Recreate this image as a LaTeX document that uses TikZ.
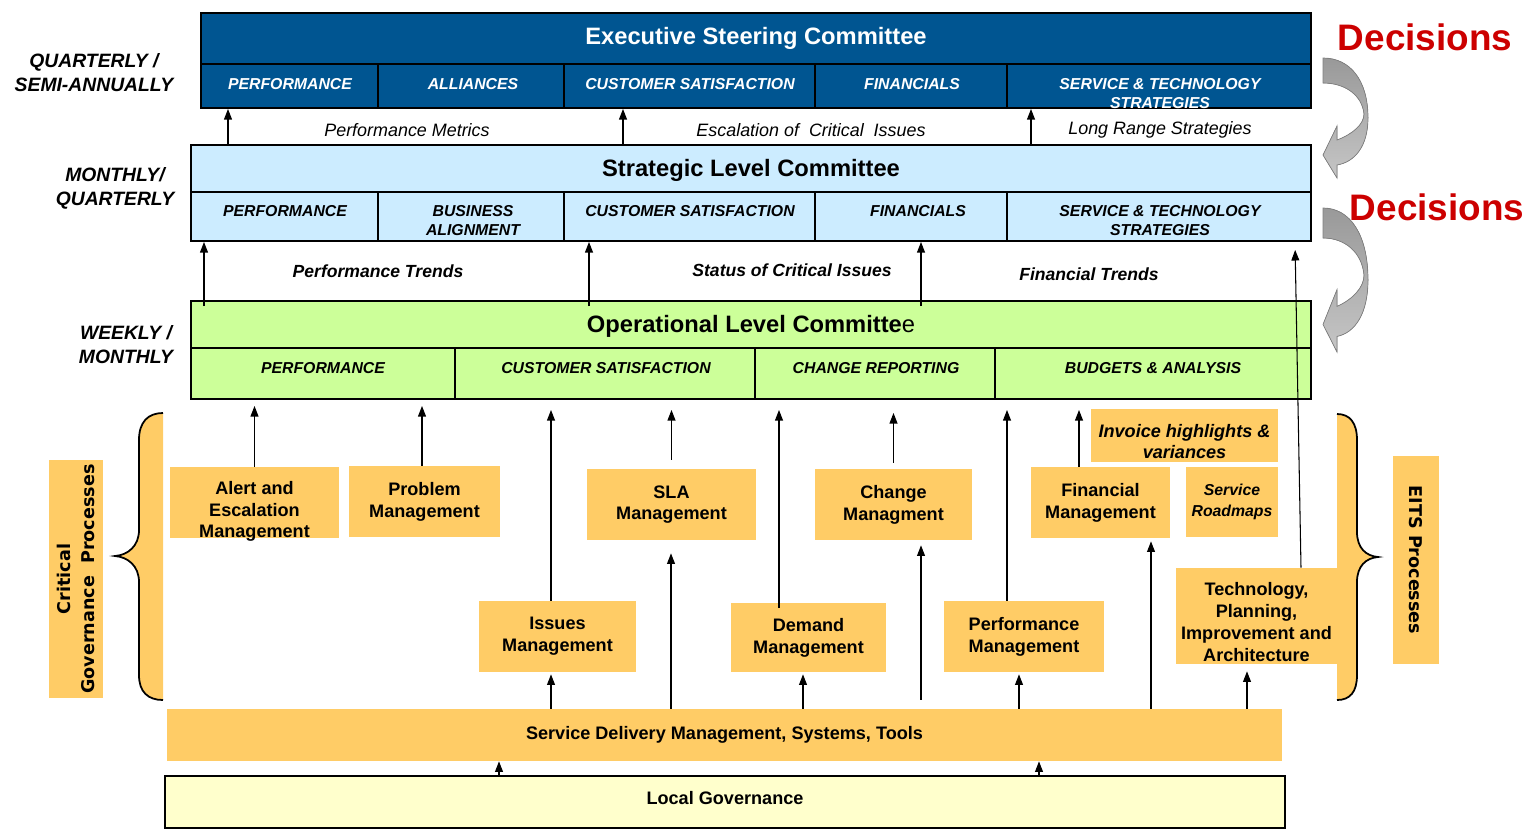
\documentclass[tikz,border=0pt]{standalone}
\usepackage{fontspec}
\setmainfont{Liberation Sans}
\newfontfamily\dejavu{DejaVu Sans}
\usetikzlibrary{arrows.meta}

\definecolor{execblue}{RGB}{0,85,145}
\definecolor{stratblue}{RGB}{204,236,255}
\definecolor{opgreen}{RGB}{204,255,153}
\definecolor{procorange}{RGB}{255,204,102}
\definecolor{localyellow}{RGB}{255,255,204}
\definecolor{decred}{RGB}{204,0,0}

\tikzset{
  sz/.style 2 args={minimum width=#1*0.02cm, minimum height=#2*0.02cm},
  panel/.style={draw, line width=1.1pt, inner sep=0pt},
  proc/.style={fill=procorange, inner sep=0pt, align=center,
    font=\fontsize{10.3}{12.4}\selectfont\bfseries},
  proctext/.style={align=center, inner sep=0pt,
    font=\fontsize{10.3}{12.4}\selectfont\bfseries},
  ttl/.style={font=\fontsize{13.5}{16}\selectfont\bfseries},
  cell/.style={align=center, inner sep=0pt,
    font=\fontsize{9}{10.8}\selectfont\bfseries\itshape},
  period/.style={align=center, font=\fontsize{11}{13.6}\selectfont\bfseries\itshape},
  flow/.style={font=\fontsize{10.2}{12}\selectfont\itshape},
  arr/.style={-{Triangle[length=6pt,width=4.5pt]}, line width=0.6pt},
  sidebar/.style={fill=procorange, inner sep=0pt, align=center,
    font=\dejavu\fontsize{10}{13.6}\selectfont\bfseries},
}

\begin{document}
\begin{tikzpicture}[x=0.02cm, y=-0.02cm]
\useasboundingbox (0,0) rectangle (1532,833);

% executive steering committee
\node[panel, fill=execblue, sz={1110}{95}] (exec) at (756,60.5) {};
\draw[line width=1.1pt] (exec.west |- 0,64) -- (exec.east |- 0,64);
\foreach \x in {378,564,815,1007}
  \draw[line width=1.1pt] (\x,64) -- (exec.south -| \x,0);
\node[ttl, white] (exectitle) at (756,38) {Executive Steering Committee};
\node[cell, white] (exec1) at (290,84) {PERFORMANCE};
\node[cell, white] (exec2) at (473,84) {ALLIANCES};
\node[cell, white] (exec3) at (690,84) {CUSTOMER SATISFACTION};
\node[cell, white] (exec4) at (912,84) {FINANCIALS};
\node[cell, white] (exec5) at (1160,93.5) {SERVICE \& TECHNOLOGY\\STRATEGIES};

% strategic level committee
\node[panel, fill=stratblue, sz={1120}{96}] (strat) at (751,193) {};
\draw[line width=1.1pt] (strat.west |- 0,192) -- (strat.east |- 0,192);
\foreach \x in {378,564,815,1007}
  \draw[line width=1.1pt] (\x,192) -- (strat.south -| \x,0);
\node[ttl] (strattitle) at (751,170) {Strategic Level Committee};
\node[cell] (strat1) at (285,211) {PERFORMANCE};
\node[cell] (strat2) at (473,220.5) {BUSINESS\\ALIGNMENT};
\node[cell] (strat3) at (690,211) {CUSTOMER SATISFACTION};
\node[cell] (strat4) at (918,211) {FINANCIALS};
\node[cell] (strat5) at (1160,220.5) {SERVICE \& TECHNOLOGY\\STRATEGIES};

% operational level committee
\node[panel, fill=opgreen, sz={1120}{98}] (oper) at (751,350) {};
\draw[line width=1.1pt] (oper.west |- 0,348) -- (oper.east |- 0,348);
\foreach \x in {455,755,995}
  \draw[line width=1.1pt] (\x,348) -- (oper.south -| \x,0);
\node[ttl] (opertitle) at (751,326) {Operational Level Committe{\mdseries e}};
\node[cell] (oper1) at (323,368) {PERFORMANCE};
\node[cell] (oper2) at (606,368) {CUSTOMER SATISFACTION};
\node[cell] (oper3) at (876,368) {CHANGE REPORTING};
\node[cell] (oper4) at (1153,368) {BUDGETS \& ANALYSIS};

% meeting periods
\node[period] (quarterly) at (94,72.5) {QUARTERLY /\\SEMI-ANNUALLY};
\node[period] (monthly) at (115,188.5) {MONTHLY/\\QUARTERLY};
\node[period] (weekly) at (126,345) {WEEKLY /\\MONTHLY};

% what flows upward
\node[flow] (metrics) at (407,130) {Performance Metrics};
\node[flow] (escal) at (811,130) {Escalation of~ Critical~ Issues};
\node[flow] (longrange) at (1160,130) {Long Range Strategies};
\node[flow, font=\fontsize{10}{12}\selectfont\bfseries\itshape] (trends) at (378,271) {Performance Trends};
\node[flow, font=\fontsize{10}{12}\selectfont\bfseries\itshape] (status) at (792,270) {Status of Critical Issues};
\node[flow, font=\fontsize{10}{12}\selectfont\bfseries\itshape] (fintrends) at (1089,274) {Financial Trends};

% processes
\node[proc, sz={169}{71}, label={[proctext, yshift=-0.18cm]center:{Alert and\\Escalation\\Management}}] (alert) at (254.5,502.5) {};
\node[proc, sz={151}{71}] (problem) at (424.5,501.5) {Problem\\Management};
\node[proc, sz={169}{71}] (sla) at (671.5,504.5) {SLA\\Management};
\node[proc, sz={157}{71}] (change) at (893.5,504.5) {Change\\Managment};
\node[proc, sz={139}{71}] (finmgmt) at (1100.5,502.5) {Financial\\Management};
\node[proc, sz={187}{53}, label={[proctext, font=\fontsize{10.3}{12.4}\selectfont\bfseries\itshape, yshift=-0.12cm]center:{Invoice highlights \&\\variances}}] (invoice) at (1184.5,435.5) {};
\node[proc, sz={92}{70}, font=\fontsize{9}{11.5}\selectfont\bfseries\itshape] (roadmap) at (1232,502) {Service\\Roadmaps};
\node[proc, sz={157}{71}] (issues) at (557.5,636.5) {Issues\\Management};
\node[proc, sz={155}{69}] (demand) at (808.5,637.5) {Demand\\Management};
\node[proc, sz={160}{71}] (perfmgmt) at (1024,636.5) {Performance\\Management};
\node[proc, sz={161}{96}, label={[proctext, yshift=-0.12cm]center:{Technology,\\Planning,\\Improvement and\\Architecture}}] (tech) at (1256.5,616) {};
\node[proc, sz={1115}{52}] (sd) at (724.5,735) {Service Delivery Management, Systems, Tools};
\node[proc, draw, line width=1.1pt, fill=localyellow, sz={1120}{52}, label={[proctext, yshift=0.08cm]center:Local Governance}] (local) at (725,802) {};

% side labels and braces
\node[sidebar, rotate=90, sz={238}{54}] (cgp) at (76,579) {Critical\\Governance\ \ Processes};
\node[sidebar, rotate=-90, sz={208}{46}] (eits) at (1416,560) {EITS Processes};
\def\leftbr{(163,413) .. controls (148,413) and (139,422) .. (139,440) -- (139,530)
  .. controls (139,546) and (128,555) .. (115,556) .. controls (128,557) and (139,566) .. (139,582)
  -- (139,675) .. controls (139,692) and (148,700) .. (163,700)}
\def\rightbr{(1337,414) .. controls (1350,414) and (1357,423) .. (1357,440) -- (1357,532)
  .. controls (1357,548) and (1366,556) .. (1378,557) .. controls (1366,558) and (1357,566) .. (1357,582)
  -- (1357,675) .. controls (1357,692) and (1350,700) .. (1337,700)}
\fill[procorange] \leftbr -- cycle;
\draw[line width=1pt] \leftbr;
\fill[procorange] \rightbr -- cycle;
\draw[line width=1pt] \rightbr;

% decisions
\node[font=\fontsize{21}{24}\selectfont\bfseries, text=decred] (dec1) at (1425,37) {Decisions};
\node[font=\fontsize{21}{24}\selectfont\bfseries, text=decred] (dec2) at (1437,207) {Decisions};
\foreach \dy/\ys in {58/1, 208/1.2}
  \filldraw[draw=gray, top color=gray!80, bottom color=gray!45, shift={(1323,\dy)}, yscale=\ys]
    (0,0) .. controls (27,0) and (45,22) .. (45,60)
    .. controls (45,88) and (32,104) .. (14,107)
    -- (14,120) -- (0,97) -- (14,68) -- (14,82)
    .. controls (30,76) and (41,66) .. (41,56)
    .. controls (39,37) and (22,25) .. (0,25) -- cycle;

% arrows between committees
\foreach \x in {228,623,1031}
  \draw[arr] (strat.north -| \x,0) -- (exec.south -| \x,0);
\foreach \x in {204,589,921}
  \draw[arr, shorten <=-0.12cm] (oper.north -| \x,0) -- (strat.south -| \x,0);
\draw[arr, shorten >=0.16cm] (tech.north -| 1301,0) -- (strat.south -| 1295,0);

% arrows into the operational committee
\draw[arr, shorten >=0.12cm] (alert.north) -- (alert.north |- oper.south);
\draw[arr, shorten >=0.12cm] (problem.north -| 422,0) -- (oper.south -| 422,0);
\draw[arr, shorten >=0.2cm] (issues.north -| 551,0) -- (oper.south -| 551,0);
\draw[arr, shorten <=0.18cm, shorten >=0.2cm] (sla.north) -- (sla.north |- oper.south);
\draw[arr, shorten <=-0.1cm, shorten >=0.2cm] (demand.north -| 779,0) -- (oper.south -| 779,0);
\draw[arr, shorten <=0.12cm, shorten >=0.26cm] (change.north) -- (change.north |- oper.south);
\draw[arr, shorten >=0.2cm] (perfmgmt.north -| 1007,0) -- (oper.south -| 1007,0);
\draw[arr, shorten >=0.2cm] (finmgmt.north -| 1079,0) -- (oper.south -| 1079,0);

% arrows out of service delivery
\draw[arr, shorten >=0.04cm] (sd.north -| 551,0) -- (issues.south -| 551,0);
\draw[arr, shorten >=0.26cm] (sd.north -| 671,0) -- (sla.south -| 671,0);
\draw[arr, shorten >=0.04cm] (sd.north -| 803,0) -- (demand.south -| 803,0);
\draw[arr, shorten <=0.18cm, shorten >=0.1cm] (sd.north -| 921,0) -- (change.south -| 921,0);
\draw[arr, shorten >=0.04cm] (sd.north -| 1019,0) -- (perfmgmt.south -| 1019,0);
\draw[arr, shorten >=0.06cm] (sd.north -| 1151,0) -- (finmgmt.south -| 1151,0);
\draw[arr, shorten >=0.14cm] (sd.north -| 1247,0) -- (tech.south -| 1247,0);

% local governance feeds service delivery
\draw[arr] (local.north -| 499,0) -- (sd.south -| 499,0);
\draw[arr] (local.north -| 1039,0) -- (sd.south -| 1039,0);
\end{tikzpicture}
\end{document}
